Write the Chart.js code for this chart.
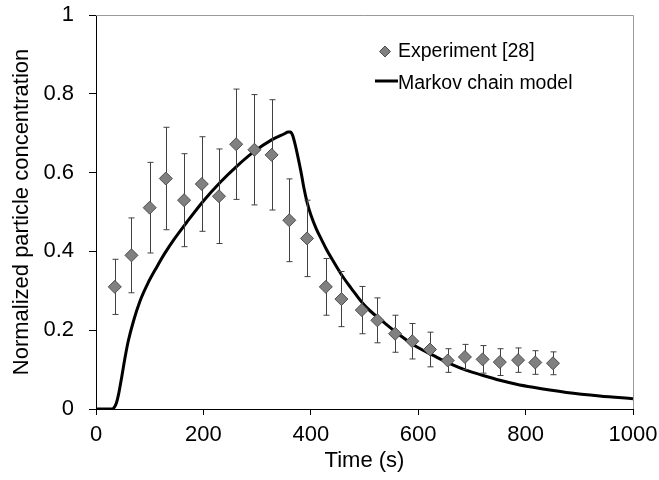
<!DOCTYPE html>
<html>
<head>
<meta charset="utf-8">
<script src="https://cdn.jsdelivr.net/npm/chart.js@4/dist/chart.umd.min.js"></script>
<style>
  body { margin: 0; background: #fff; }
  #wrap { width: 659px; height: 480px; }
</style>
</head>
<body>
<div id="wrap"><canvas id="myChart" width="659" height="480"></canvas></div>
<script>
  // experiment points
  const expTime = [35, 66, 100, 130, 164, 197, 229, 261, 295, 327, 360, 393, 428,
                   457, 495, 524, 557, 589, 622, 655, 687, 720, 752, 786, 818, 851];
  const expConc = [0.31, 0.39, 0.511, 0.585, 0.53, 0.571, 0.54, 0.672, 0.658, 0.645, 0.479, 0.433, 0.31,
                   0.279, 0.251, 0.225, 0.191, 0.172, 0.151, 0.123, 0.132, 0.126, 0.119, 0.124, 0.118, 0.116];
  const expErr  = [0.07, 0.095, 0.115, 0.13, 0.118, 0.12, 0.12, 0.14, 0.14, 0.14, 0.105, 0.097, 0.072,
                   0.07, 0.06, 0.057, 0.047, 0.045, 0.044, 0.03, 0.032, 0.035, 0.034, 0.031, 0.03, 0.029];

  // markov chain model curve
  const modelTime = [0, 30, 34, 38, 42, 48, 54, 60, 70, 82, 97, 113, 128, 145, 169, 200, 231, 262, 293, 327,
                     350, 358, 362, 366, 370, 376, 382, 387, 393, 400, 410, 420, 430, 442, 460, 475, 500,
                     535, 566, 597, 628, 659, 690, 721, 752, 783, 814, 845, 876, 938, 1000];
  const modelConc = [0, 0, 0.004, 0.015, 0.037, 0.082, 0.13, 0.172, 0.224, 0.274, 0.32, 0.36, 0.395, 0.43, 0.474, 0.528, 0.575, 0.616, 0.652, 0.683,
                     0.698, 0.703, 0.703, 0.695, 0.676, 0.64, 0.6, 0.562, 0.525, 0.493, 0.458, 0.43, 0.403, 0.375, 0.335, 0.307, 0.263,
                     0.221, 0.187, 0.158, 0.136, 0.115, 0.098, 0.085, 0.073, 0.063, 0.055, 0.048, 0.042, 0.033, 0.026];

  const xTicks = [0, 200, 400, 600, 800, 1000];
  const yTicks = [0, 0.2, 0.4, 0.6, 0.8, 1];

  const FONT = 'Liberation Sans, Arial, sans-serif';

  const expPoints = expTime.map((t, i) => ({ x: t, y: expConc[i] }));
  const modelPoints = modelTime.map((t, i) => ({ x: t, y: modelConc[i] }));

  // error bars under the diamonds, plus grey frame and legend
  const extras = {
    id: 'extras',
    beforeDatasetDraw(chart, args) {
      if (args.index !== 0) return;
      const ctx = chart.ctx;
      const xs = chart.scales.x, ys = chart.scales.y;
      ctx.save();
      ctx.strokeStyle = '#404040';
      ctx.lineWidth = 1;
      expTime.forEach((t, i) => {
        const px = Math.round(xs.getPixelForValue(t)) + 0.5;
        const top = ys.getPixelForValue(expConc[i] + expErr[i]);
        const bot = ys.getPixelForValue(expConc[i] - expErr[i]);
        ctx.beginPath();
        ctx.moveTo(px, top); ctx.lineTo(px, bot);
        ctx.moveTo(px - 3, top); ctx.lineTo(px + 3, top);
        ctx.moveTo(px - 3, bot); ctx.lineTo(px + 3, bot);
        ctx.stroke();
      });
      ctx.restore();
    },
    afterDraw(chart) {
      const ctx = chart.ctx;
      const a = chart.chartArea;
      ctx.save();
      ctx.strokeStyle = '#9a9a9a';
      ctx.lineWidth = 1;
      ctx.beginPath();
      ctx.moveTo(a.left, a.top + 0.5); ctx.lineTo(a.right + 0.5, a.top + 0.5);
      ctx.lineTo(a.right + 0.5, a.bottom);
      ctx.stroke();

      // legend
      const ds = chart.data.datasets;
      ctx.font = '19.5px ' + FONT;
      ctx.fillStyle = '#000';
      ctx.textBaseline = 'alphabetic';
      ctx.textAlign = 'left';
      ctx.fillText(ds[0].label, 398, 57);
      ctx.fillText(ds[1].label, 398, 89);
      // diamond
      ctx.beginPath();
      ctx.moveTo(385, 46); ctx.lineTo(390.5, 51.5); ctx.lineTo(385, 57); ctx.lineTo(379.5, 51.5);
      ctx.closePath();
      ctx.fillStyle = '#808080';
      ctx.fill();
      ctx.strokeStyle = '#4d4d4d';
      ctx.stroke();
      // line
      ctx.beginPath();
      ctx.moveTo(375, 81); ctx.lineTo(398, 81);
      ctx.strokeStyle = '#000';
      ctx.lineWidth = 3;
      ctx.stroke();
      ctx.restore();
    }
  };

  const config = {
    type: 'scatter',
    data: {
      datasets: [{
        label: 'Experiment [28]',
        data: expPoints,
        showLine: false,
        pointStyle: 'rectRot',
        pointRadius: 6.5,
        pointBackgroundColor: '#808080',
        pointBorderColor: '#4d4d4d',
        pointBorderWidth: 1,
        order: 0
      }, {
        label: 'Markov chain model',
        data: modelPoints,
        showLine: true,
        borderColor: '#000',
        borderWidth: 3,
        pointRadius: 0,
        cubicInterpolationMode: 'monotone',
        fill: false,
        order: 1
      }]
    },
    options: {
      responsive: false,
      animation: false,
      devicePixelRatio: 1,
      layout: { padding: { top: 15, right: 26, left: 0, bottom: 0 } },
      plugins: { legend: { display: false }, tooltip: { enabled: false } },
      scales: {
        x: {
          type: 'linear',
          min: 0, max: 1000,
          afterFit(s) { s.height = 71; s.paddingLeft = 0; s.paddingRight = 0; },
          afterBuildTicks(s) { s.ticks = xTicks.map(v => ({ value: v })); },
          ticks: { font: { family: FONT, size: 22 }, color: '#000', padding: 7, maxRotation: 0,
                   callback: v => String(v) },
          grid: { drawOnChartArea: false, tickLength: 6, color: '#000' },
          border: { display: true, color: '#000', width: 1 },
          title: { display: true, text: 'Time (s)', font: { family: FONT, size: 22 }, color: '#000', padding: { top: 0, bottom: 6 } }
        },
        y: {
          type: 'linear',
          min: 0, max: 1,
          afterFit(s) { s.width = 96; s.paddingTop = 0; s.paddingBottom = 0; },
          afterBuildTicks(s) { s.ticks = yTicks.map(v => ({ value: v })); },
          ticks: { font: { family: FONT, size: 22 }, color: '#000', padding: 15,
                   callback: v => String(v) },
          grid: { drawOnChartArea: false, tickLength: 7, color: '#000' },
          border: { display: true, color: '#000', width: 1 },
          title: { display: true, text: 'Normalized particle concentration', font: { family: FONT, size: 22 }, color: '#000', padding: { top: 9, bottom: 0 } }
        }
      }
    },
    plugins: [extras]
  };

  const myChart = new Chart(
    document.getElementById('myChart'),
    config
  );
</script>
</body>
</html>
